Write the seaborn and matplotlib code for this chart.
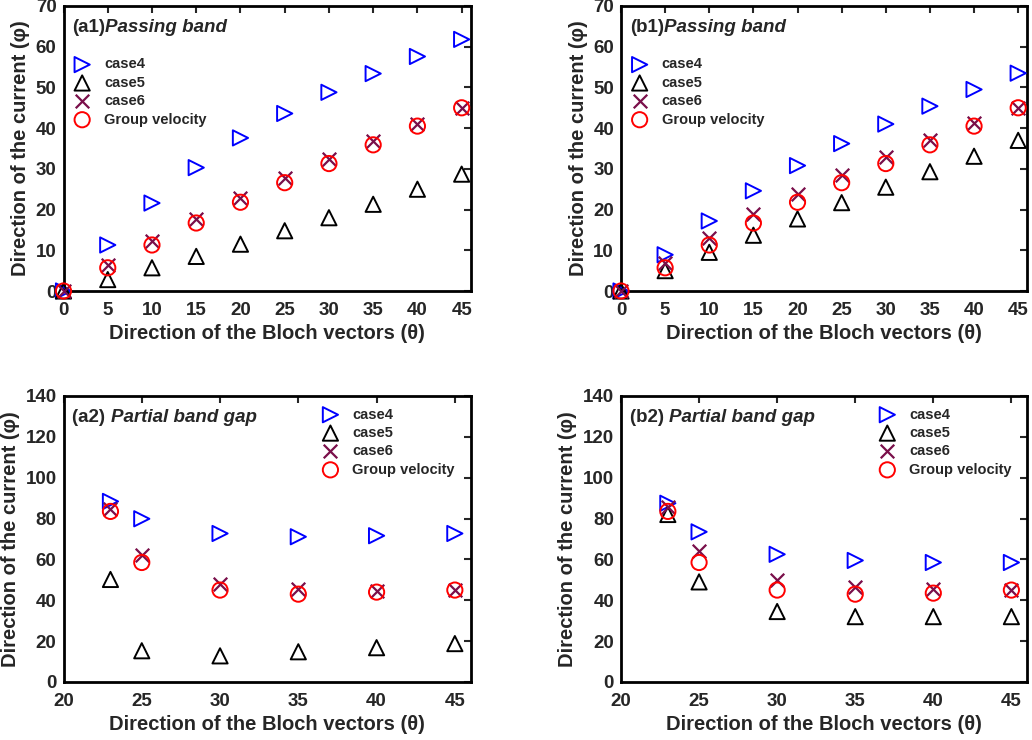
import numpy as np
import pandas as pd
import seaborn as sns
import matplotlib.pyplot as plt

# x values (direction of the Bloch vectors, theta)
theta_pass = [0, 5, 10, 15, 20, 25, 30, 35, 40, 45]
theta_gap = [23, 25, 30, 35, 40, 45]

# (a1) passing band
a1_case4 = [0, 11.3, 21.6, 30.3, 37.6, 43.6, 48.8, 53.4, 57.6, 61.8]
a1_case5 = [0, 2.8, 5.7, 8.5, 11.5, 14.8, 18.0, 21.3, 25.0, 28.7]
a1_case6 = [0, 6.3, 12.2, 17.8, 22.9, 27.7, 32.4, 36.8, 41.0, 45.0]
a1_group = [0, 5.7, 11.3, 16.7, 21.8, 26.6, 31.3, 35.9, 40.5, 45.0]

# (b1) passing band
b1_case4 = [0, 8.9, 17.2, 24.6, 30.8, 36.2, 41.0, 45.4, 49.5, 53.5]
b1_case5 = [0, 5.0, 9.5, 13.7, 17.7, 21.7, 25.5, 29.3, 33.1, 37.0]
b1_case6 = [0, 6.9, 13.0, 18.8, 23.8, 28.6, 32.9, 37.1, 41.2, 45.0]
b1_group = [0, 5.7, 11.3, 16.7, 21.8, 26.6, 31.3, 35.9, 40.5, 45.0]

# (a2) partial band gap
a2_case4 = [88.4, 79.9, 72.7, 71.1, 71.6, 72.7]
a2_case5 = [50.2, 15.3, 12.8, 14.8, 16.8, 18.8]
a2_case6 = [84.5, 62.0, 48.0, 45.5, 44.5, 45.0]
a2_group = [83.5, 58.5, 45.0, 43.0, 44.0, 45.0]

# (b2) partial band gap
b2_case4 = [87.5, 73.5, 62.5, 59.5, 58.5, 58.5]
b2_case5 = [82.0, 49.0, 34.5, 32.0, 32.0, 32.0]
b2_case6 = [85.5, 64.0, 50.0, 46.5, 45.5, 45.0]
b2_group = [83.5, 58.5, 45.0, 43.0, 43.5, 45.0]

series_names = ['case4', 'case5', 'case6', 'Group velocity']

sns.set_style('white')
plt.rcParams['font.family'] = ['Liberation Sans', 'DejaVu Sans']
plt.rcParams['font.weight'] = 'bold'

styles = {
    'case4': dict(marker='>', color='#0000ff', facecolor='none', edgecolor='#0000ff', s=120, linewidth=1.4),
    'case5': dict(marker='^', color='black', facecolor='none', edgecolor='black', s=120, linewidth=1.4),
    'case6': dict(marker='x', color='#7a0f4a', s=95, linewidth=1.6),
    'Group velocity': dict(marker='o', color='#ff0000', facecolor='none', edgecolor='#ff0000', s=120, linewidth=1.4),
}


def draw_panel(ax, theta, values, tag, title, ylim, yticks, xticks, legend_loc):
    df = pd.DataFrame({'theta': theta})
    for name, vals in zip(series_names, values):
        df[name] = vals
    for name in series_names:
        sns.scatterplot(data=df, x='theta', y=name, ax=ax, label=name,
                        clip_on=False, zorder=3, **styles[name])
    ax.set_xlim(xticks[0], 46)
    ax.set_ylim(*ylim)
    ax.set_xticks(xticks)
    ax.set_yticks(yticks)
    ax.set_xlabel('Direction of the Bloch vectors (θ)', fontsize=14.5, fontweight='bold', labelpad=3.5)
    ax.set_ylabel('Direction of the current (φ)', fontsize=14.5, fontweight='bold', labelpad=4)
    ax.tick_params(direction='in', top=True, right=True, length=5, width=1.5,
                   labelsize=13.5)
    ax.tick_params(axis='x', pad=8)
    ax.tick_params(axis='y', pad=5)
    for lab in ax.get_xticklabels() + ax.get_yticklabels():
        lab.set_fontweight('bold')
    for sp in ax.spines.values():
        sp.set_linewidth(2)
        sp.set_color('black')
    t1 = ax.text(0.022, 0.91, tag, transform=ax.transAxes, fontsize=13.5,
                 fontweight='bold', va='baseline')
    ax.annotate(title, xy=(1, 0), xycoords=t1, fontsize=13.5, fontweight='bold',
                fontstyle='italic', va='bottom')
    leg = ax.legend(loc=legend_loc[0], bbox_to_anchor=legend_loc[1], frameon=False,
                    fontsize=10.5, labelspacing=0.3, handletextpad=0.9, handlelength=1.2,
                    borderaxespad=0)
    for txt in leg.get_texts():
        txt.set_fontweight('bold')


fig = plt.figure(figsize=(10.32, 7.4), dpi=100)
W, H = 1032, 740
ax_a1 = fig.add_axes([63.5 / W, 1 - 291 / H, 407 / W, 285 / H])
ax_b1 = fig.add_axes([621 / W, 1 - 291 / H, 406 / W, 285 / H])
ax_a2 = fig.add_axes([63.5 / W, 1 - 682 / H, 407 / W, 286 / H])
ax_b2 = fig.add_axes([621 / W, 1 - 682 / H, 406 / W, 286 / H])

draw_panel(ax_a1, theta_pass, [a1_case4, a1_case5, a1_case6, a1_group], '(a1)', 'Passing band',
           (0, 70), range(0, 71, 10), theta_pass, ('upper left', (0.01, 0.84)))
draw_panel(ax_b1, theta_pass, [b1_case4, b1_case5, b1_case6, b1_group], '(b1)', 'Passing band',
           (0, 70), range(0, 71, 10), theta_pass, ('upper left', (0.01, 0.84)))
draw_panel(ax_a2, theta_gap, [a2_case4, a2_case5, a2_case6, a2_group], '(a2) ', 'Partial band gap',
           (0, 140), range(0, 141, 20), [20, 25, 30, 35, 40, 45], ('upper left', (0.62, 0.98)))
draw_panel(ax_b2, theta_gap, [b2_case4, b2_case5, b2_case6, b2_group], '(b2) ', 'Partial band gap',
           (0, 140), range(0, 141, 20), [20, 25, 30, 35, 40, 45], ('upper left', (0.62, 0.98)))

fig.savefig('out.png', dpi=100)
